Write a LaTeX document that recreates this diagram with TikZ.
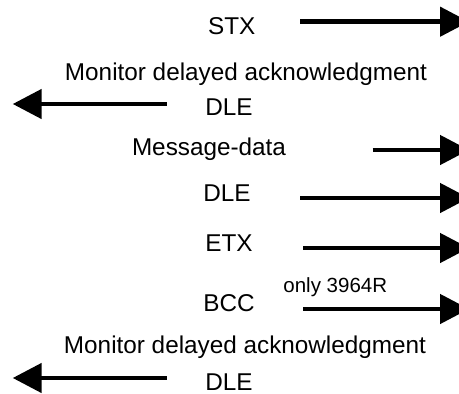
\documentclass[tikz,border=0pt]{standalone}
\usepackage{fontspec}
\setmainfont{Liberation Sans}
\usetikzlibrary{arrows.meta}
\begin{document}
\begin{tikzpicture}[x=1pt,y=-1pt,
  lbl/.style={anchor=base,inner sep=0pt,font=\fontsize{24.3}{28}\selectfont},
  small/.style={anchor=base,inner sep=0pt,font=\fontsize{20.5}{24}\selectfont},
  sig/.style={line width=4.7pt,-{Triangle[length=29pt,width=29pt]}}]
\useasboundingbox (0,0) rectangle (459,394);
\clip (0,0) rectangle (459,394);
% labels
\node[lbl] (stx) at (231.7,34.3) {STX};
\node[lbl] (mon1) at (246,80) {Monitor delayed acknowledgment};
\node[lbl] (dle1) at (229,115) {DLE};
\node[lbl] (msg) at (209,155) {Message-data};
\node[lbl] (dle2) at (227,201.7) {DLE};
\node[lbl] (etx) at (229,251.7) {ETX};
\node[lbl] (bcc) at (229,311.7) {BCC};
\node[small] (only) at (335.3,292.7) {only 3964R};
\node[lbl] (mon2) at (245,353.5) {Monitor delayed acknowledgment};
\node[lbl] (dle3) at (229,390) {DLE};
% arrow end points
\coordinate (a1s) at (300,21.7);   \coordinate (a1e) at (469,21.7);
\coordinate (a2s) at (166.7,104);  \coordinate (a2e) at (12.7,104);
\coordinate (a3s) at (372.7,150);  \coordinate (a3e) at (469,150);
\coordinate (a4s) at (300,198);    \coordinate (a4e) at (469,198);
\coordinate (a5s) at (303,248);    \coordinate (a5e) at (469,248);
\coordinate (a6s) at (303,309);    \coordinate (a6e) at (469,309);
\coordinate (a7s) at (166.7,378);  \coordinate (a7e) at (12.7,378);
\foreach \i in {1,...,7} {\draw[sig] (a\i s) -- (a\i e);}
\end{tikzpicture}
\end{document}
